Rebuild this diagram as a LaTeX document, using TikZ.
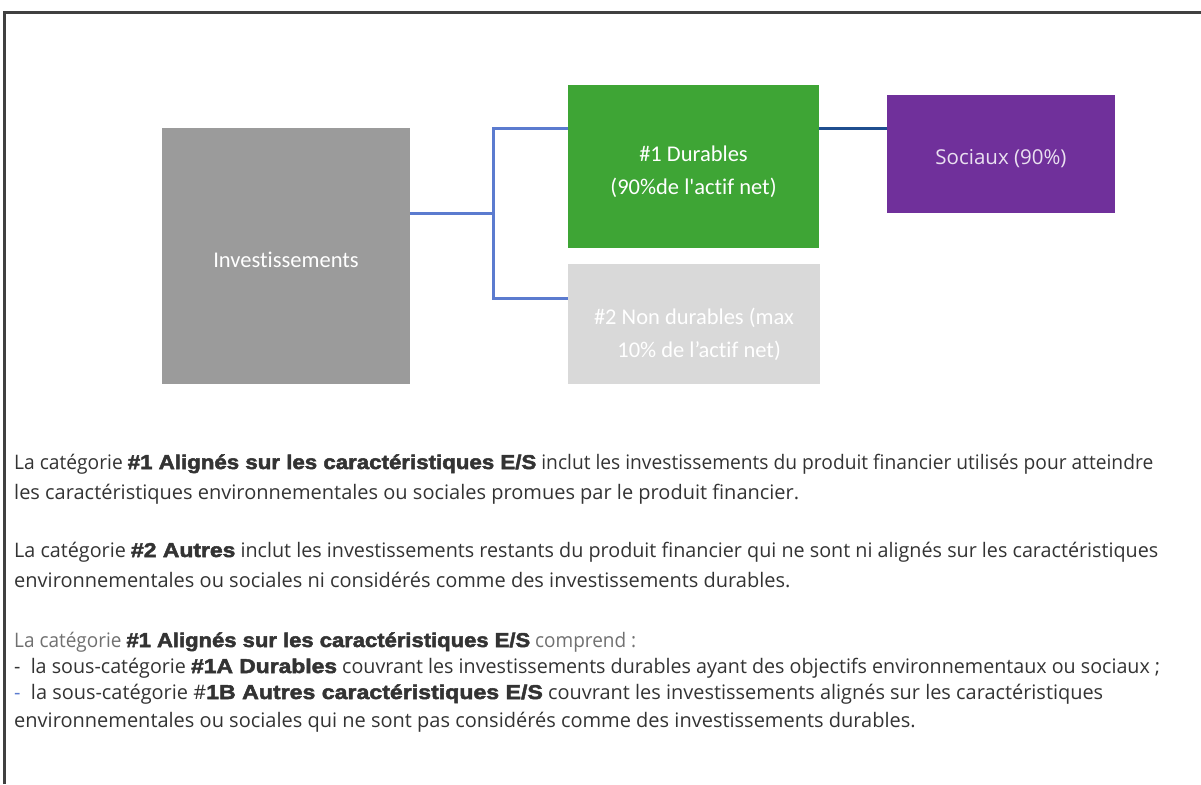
\documentclass[tikz,border=0pt]{standalone}
\usepackage{fontspec}
\usepackage{xcolor}
\usepackage{graphicx}
\usepackage{tikz}
\usetikzlibrary{positioning}

\setmainfont{Open Sans}
\newfontfamily\boxfont[Ligatures={NoCommon,NoRare}]{Carlito}
\newfontfamily\heavy[FakeBold=2.5, FakeStretch=1.16]{Liberation Sans Bold}

\definecolor{invgray}{HTML}{9B9B9B}
\definecolor{durgreen}{HTML}{3EA535}
\definecolor{nongray}{HTML}{D9D9D9}
\definecolor{socpurple}{HTML}{70309B}
\definecolor{linkblue}{HTML}{5B7BCF}
\definecolor{darkblue}{HTML}{1F4E8F}
\definecolor{bodytext}{HTML}{333333}
\definecolor{framegray}{HTML}{404040}

\tikzset{
  catbox/.style={rectangle, inner sep=0pt},
  catlabel/.style={inner sep=0pt, align=center, text=white, font=\boxfont\fontsize{22.5}{33}\selectfont},
  link/.style={draw=linkblue, line width=3pt},
  darklink/.style={draw=darkblue, line width=3pt},
  bodyline/.style={anchor=base west, inner sep=0pt, text=bodytext, font=\fontsize{20}{24}\selectfont},
}
\newcommand{\hv}[1]{{\heavy\fontsize{20}{24}\selectfont#1}}
\newcommand{\fitline}[2]{\resizebox{#1pt}{\height}{#2}}

\begin{document}
\begin{tikzpicture}[x=1pt,y=-1pt]
  \useasboundingbox (0,0) rectangle (1201,784);
  % frame
  \draw[framegray, line width=3pt] (4,784) -- (4,12.5) -- (1201,12.5);

  % boxes
  \node[catbox, fill=invgray, minimum width=248pt, minimum height=256pt] (inv) at (286,256) {};
  \node[catbox, fill=durgreen, minimum width=251pt, minimum height=163pt] (dur) at (693.5,166.5) {};
  \node[catbox, fill=nongray, minimum width=252pt, minimum height=120pt] (nondur) at (694,324) {};
  \node[catbox, fill=socpurple, minimum width=228pt, minimum height=118pt] (soc) at (1001,154) {};

  \node[catlabel] (invlabel) at ([yshift=-4pt]inv.center) {Investissements};
  \node[catlabel] (durlabel) at ([yshift=-3pt]dur.north |- 0,169) {\#1 Durables\\(90\%de l'actif net)};
  \node[catlabel] (nondurlabel) at (nondur.center |- 0,334) {\#2 Non durables (max\\\ \ 10\% de l’actif net)};
  \node[catlabel, text=socpurple!15, font=\fontsize{20.5}{24}\selectfont] (soclabel) at ([yshift=-5pt]soc.center) {Sociaux (90\%)};

  % connectors
  \coordinate (fork) at (493,213);
  \coordinate (top) at (493,128);
  \coordinate (bot) at (493,298);
  \draw[link] (inv.east |- fork) -- (fork);
  \draw[link] (dur.west |- top) -- (top) -- (bot) -- (nondur.west |- bot);
  \draw[darklink] (dur.east |- top) -- (soc.west |- top);

  % text
  \node[bodyline] (p1a) at (14,469) {\fitline{1139}{La catégorie \hv{\#1 Alignés sur les caractéristiques E/S} inclut les investissements du produit financier utilisés pour atteindre}};
  \node[bodyline] (p1b) at (14,499) {les caractéristiques environnementales ou sociales promues par le produit financier.};
  \node[bodyline] (p2a) at (14,557) {\fitline{1144}{La catégorie \hv{\#2 Autres} inclut les investissements restants du produit financier qui ne sont ni alignés sur les caractéristiques}};
  \node[bodyline] (p2b) at (14,587) {environnementales ou sociales ni considérés comme des investissements durables.};
  \node[bodyline] (p3a) at (14,647) {\fitline{622}{{\color{bodytext!70}La catégorie} \hv{\#1 Alignés sur les caractéristiques E/S} {\color{bodytext!70}comprend :}}};
  \node[bodyline] (p3b) at (14,673) {\fitline{1146}{-\ \ la sous-catégorie \hv{\#1A Durables} couvrant les investissements durables ayant des objectifs environnementaux ou sociaux ;}};
  \node[bodyline] (p3c) at (14,699) {\fitline{1089}{{\color{linkblue}-}\ \ la sous-catégorie \#\hv{1B Autres caractéristiques E/S} couvrant les investissements alignés sur les caractéristiques}};
  \node[bodyline] (p3d) at (14,727) {environnementales ou sociales qui ne sont pas considérés comme des investissements durables.};
\end{tikzpicture}
\end{document}
